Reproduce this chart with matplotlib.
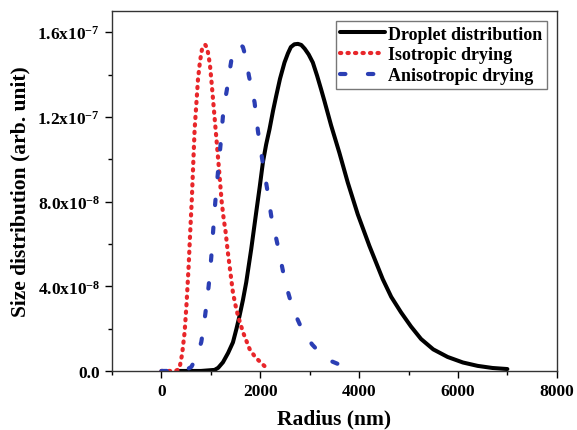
import numpy as np
import matplotlib
matplotlib.use('Agg')
import matplotlib.pyplot as plt
from matplotlib.ticker import MultipleLocator, FuncFormatter

plt.rcParams['font.family'] = 'Liberation Serif'
plt.rcParams['font.weight'] = 'bold'
plt.rcParams['mathtext.fontset'] = 'custom'
plt.rcParams['mathtext.rm'] = 'Liberation Serif:bold'
plt.rcParams['mathtext.bf'] = 'Liberation Serif:bold'
plt.rcParams['mathtext.default'] = 'bf'

# values (radius in nm, size distribution in arb. unit x 1e-8)
droplet_r = [350, 800, 1077, 1150, 1246, 1350, 1448, 1520, 1582, 1650, 1717, 1818, 1919,
             1990, 2054, 2120, 2188, 2260, 2323, 2400, 2491, 2560, 2620, 2690, 2762, 2830,
             2900, 2980, 3064, 3150, 3232, 3299, 3434, 3602, 3771, 3973, 4208, 4478, 4650,
             4848, 5050, 5253, 5500, 5792, 6100, 6398, 6700, 7000]
droplet_y = [0, 0, 0.05, 0.15, 0.41, 0.85, 1.35, 2.0, 2.61, 3.35, 4.19, 5.76, 7.5,
             8.7, 9.85, 10.7, 11.42, 12.3, 12.99, 13.8, 14.57, 15.0, 15.3, 15.43, 15.45, 15.4,
             15.22, 14.95, 14.57, 13.95, 13.3, 12.75, 11.6, 10.3, 8.9, 7.4, 5.91, 4.34, 3.5,
             2.77, 2.1, 1.51, 1.02, 0.66, 0.4, 0.24, 0.14, 0.09]

iso_r = [0, 200, 300, 364, 420, 471, 510, 552, 580, 615, 645, 673, 710, 741, 780, 822,
         860, 890, 925, 956, 985, 1010, 1050, 1097, 1160, 1220, 1260, 1300, 1340, 1380,
         1448, 1500, 1549, 1650, 1784, 1900, 2020, 2100]
iso_y = [0, 0, 0.02, 0.09, 0.8, 1.84, 3.2, 4.96, 6.4, 8.05, 9.8, 11.42, 12.7, 13.78, 14.6, 15.2,
         15.38, 15.4, 15.25, 14.88, 14.4, 13.78, 12.7, 11.42, 9.7, 8.0, 7.2, 6.56, 5.7, 4.96,
         3.7, 3.1, 2.61, 1.84, 1.04, 0.65, 0.38, 0.2]

aniso_r = [0, 300, 500, 606, 700, 760, 808, 850, 889, 920, 956, 985, 1010, 1044, 1091,
           1145, 1198, 1246, 1290, 1333, 1370, 1414, 1500, 1560, 1602, 1650, 1710, 1771,
           1830, 1886, 1953, 2040, 2135, 2222, 2300, 2370, 2505, 2660, 2800, 2929, 3050,
           3198, 3450, 3737, 3940]
aniso_y = [0, 0, 0.05, 0.19, 0.6, 1.0, 1.37, 2.0, 2.69, 3.3, 4.0, 4.7, 5.38, 6.5, 7.98,
           9.39, 10.71, 12.05, 12.8, 13.39, 14.0, 14.65, 15.2, 15.4, 15.42, 15.3, 14.8, 13.94,
           13.3, 12.68, 11.34, 10.0, 8.67, 7.33, 6.5, 5.76, 4.19, 2.93, 2.2, 1.67, 1.25,
           0.88, 0.45, 0.17, 0.09]

y_ticks = [0, 4e-8, 8e-8, 1.2e-7, 1.6e-7]
x_ticks = [0, 2000, 4000, 6000, 8000]


def sci_label(v, pos):
    if v == 0:
        return '0.0'
    exp = int(np.floor(np.log10(abs(v)) + 1e-9))
    mant = v / 10 ** exp
    return '%.1fx10$^{%d}$' % (mant, exp)


fig = plt.figure(figsize=(5.77, 4.31), dpi=100)
ax = fig.add_axes([0.194, 0.137, 0.771, 0.835])

ax.plot(droplet_r, np.array(droplet_y) * 1e-8, '-', color='black', lw=2.9,
        label='Droplet distribution', solid_capstyle='round', solid_joinstyle='round')
ax.plot(iso_r, np.array(iso_y) * 1e-8, color='#e8262a', lw=3.0, label='Isotropic drying',
        dashes=(0.3, 1.5), dash_capstyle='round')
ax.plot(aniso_r, np.array(aniso_y) * 1e-8, color='#2b3eb4', lw=3.0, label='Anisotropic drying',
        dashes=(1.3, 5.4), dash_capstyle='round')

ax.set_xlim(-1000, 8000)
ax.set_ylim(0, 1.7e-7)
ax.set_xticks(x_ticks)
ax.set_yticks(y_ticks)
ax.xaxis.set_minor_locator(MultipleLocator(1000))
ax.yaxis.set_minor_locator(MultipleLocator(2e-8))
ax.yaxis.set_major_formatter(FuncFormatter(sci_label))
ax.tick_params(which='major', direction='out', length=5, width=1, labelsize=12.5)
ax.tick_params(which='minor', direction='out', length=3, width=1)
for s in ax.spines.values():
    s.set_linewidth(1.0)
    s.set_color('#333333')

ax.set_xlabel('Radius (nm)', fontsize=15.5, fontweight='bold', labelpad=7)
ax.set_ylabel('Size distribution (arb. unit)', fontsize=15.5, fontweight='bold', labelpad=5)

leg = ax.legend(loc='upper right', fontsize=13, fancybox=False, edgecolor='#777777',
                framealpha=1, handlelength=2.5, handletextpad=0.15, borderpad=0.25,
                labelspacing=0.22, borderaxespad=0.55)
leg.get_frame().set_linewidth(1.0)

fig.savefig('out.png', dpi=100)
